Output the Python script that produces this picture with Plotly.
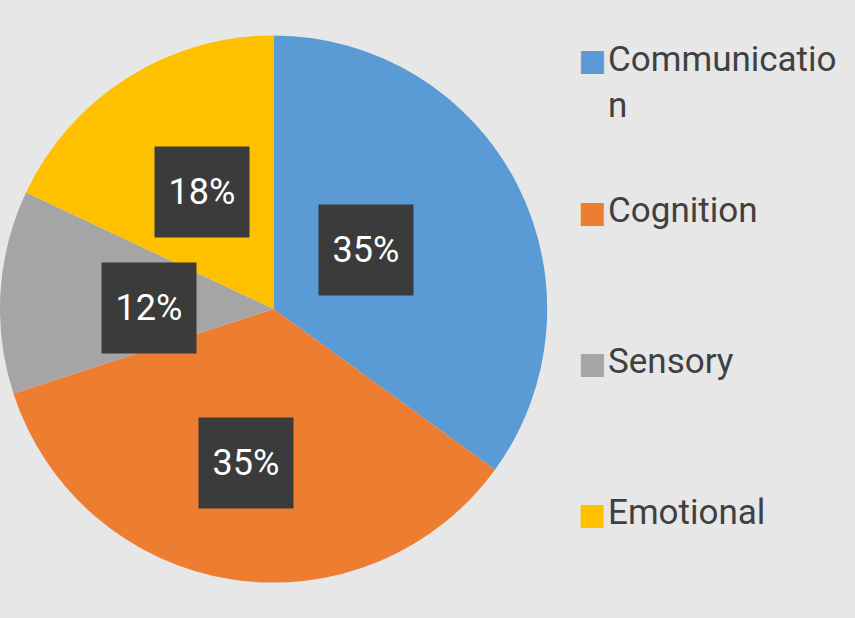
import math
import plotly.graph_objects as go

categories = ["Communication", "Cognition", "Sensory", "Emotional"]
values = [35, 35, 12, 18]
colors = ["#5B9BD5", "#ED7D31", "#A5A5A5", "#FFC000"]

W, H = 855, 618
DOM_X = [0.0, 0.64]
LABEL_FONT = "Roboto, Liberation Sans, sans-serif"

fig = go.Figure(go.Pie(
    labels=categories,
    values=values,
    marker=dict(colors=colors, line=dict(width=0)),
    sort=False,
    direction="clockwise",
    rotation=0,
    textinfo="none",
    hoverinfo="label+percent",
    showlegend=False,
    domain=dict(x=DOM_X, y=[0, 1]),
))

# data labels: dark boxes at mid-angle of each slice
total = sum(values)
r_px = min((DOM_X[1] - DOM_X[0]) * W, H) / 2
cx_px = (DOM_X[0] + DOM_X[1]) / 2 * W
cy_px = H / 2
cum = 0
annotations = []
for v in values:
    mid = (cum + v / 2) / total * 2 * math.pi
    cum += v
    x = (cx_px - 10 + 0.42 * r_px * math.sin(mid)) / W
    y = (cy_px - 8 + 0.54 * r_px * math.cos(mid)) / H
    annotations.append(dict(
        x=x, y=y, xref="paper", yref="paper", showarrow=False,
        text=f"{round(v / total * 100)}%",
        font=dict(family=LABEL_FONT, size=36, color="white"),
        bgcolor="#3b3b3b", width=92, height=88,
        xanchor="center", yanchor="middle",
    ))

# custom legend
def wrap(s, n=12):
    return "<br>".join(s[i:i + n] for i in range(0, len(s), n))

legend_top = 60
legend_step = 151
for i, (c, col) in enumerate(zip(categories, colors)):
    ypix = legend_top + i * legend_step
    annotations.append(dict(
        x=592 / W, y=1 - ypix / H, xref="paper", yref="paper", showarrow=False,
        text="■", font=dict(family="DejaVu Sans", size=30, color=col),
        xanchor="center", yanchor="middle",
    ))
    annotations.append(dict(
        x=606 / W, y=1 - (ypix - 23) / H, xref="paper", yref="paper", showarrow=False,
        text=wrap(c), align="left",
        font=dict(family=LABEL_FONT, size=35, color="#404040"),
        xanchor="left", yanchor="top",
    ))

fig.update_layout(
    width=W, height=H,
    margin=dict(l=0, r=0, t=0, b=0),
    paper_bgcolor="#e7e7e7",
    plot_bgcolor="#e7e7e7",
    annotations=annotations,
)

fig.write_html("out.html", config={"displayModeBar": False},
               post_script="document.body.style.margin='0';")
